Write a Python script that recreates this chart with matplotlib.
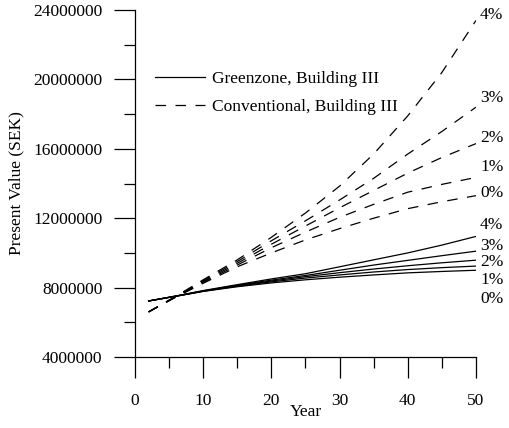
import matplotlib
matplotlib.use("Agg")
import matplotlib.pyplot as plt
from matplotlib.ticker import MultipleLocator

plt.rcParams['font.family'] = ['Liberation Serif', 'DejaVu Serif']
plt.rcParams['font.size'] = 12.5
plt.rcParams['lines.scale_dashes'] = False

# years
years = [2, 6, 10, 15, 20, 25, 30, 35, 40, 45, 50]

# Conventional, Building III (dashed), present value in SEK
conv_0 = [6.6e6, 7.45e6, 8.25e6, 9.2e6, 10.0e6, 10.75e6, 11.4e6, 12.0e6, 12.55e6, 12.95e6, 13.3e6]
conv_1 = [6.6e6, 7.47e6, 8.3e6, 9.3e6, 10.3e6, 11.2e6, 12.05e6, 12.8e6, 13.5e6, 13.95e6, 14.35e6]
conv_2 = [6.6e6, 7.48e6, 8.35e6, 9.4e6, 10.5e6, 11.55e6, 12.6e6, 13.6e6, 14.6e6, 15.5e6, 16.3e6]
conv_3 = [6.6e6, 7.5e6, 8.4e6, 9.5e6, 10.7e6, 11.85e6, 13.05e6, 14.3e6, 15.7e6, 17.0e6, 18.4e6]
conv_4 = [6.6e6, 7.5e6, 8.45e6, 9.6e6, 10.9e6, 12.3e6, 13.85e6, 15.7e6, 17.9e6, 20.4e6, 23.4e6]

# Greenzone, Building III (solid)
green_0 = [7.23e6, 7.5e6, 7.78e6, 8.05e6, 8.27e6, 8.45e6, 8.6e6, 8.73e6, 8.85e6, 8.93e6, 9.0e6]
green_1 = [7.23e6, 7.5e6, 7.79e6, 8.08e6, 8.33e6, 8.55e6, 8.73e6, 8.9e6, 9.04e6, 9.15e6, 9.24e6]
green_2 = [7.23e6, 7.51e6, 7.8e6, 8.11e6, 8.38e6, 8.63e6, 8.86e6, 9.07e6, 9.26e6, 9.43e6, 9.58e6]
green_3 = [7.23e6, 7.51e6, 7.81e6, 8.14e6, 8.43e6, 8.7e6, 9.0e6, 9.3e6, 9.57e6, 9.84e6, 10.1e6]
green_4 = [7.23e6, 7.52e6, 7.83e6, 8.17e6, 8.5e6, 8.8e6, 9.2e6, 9.6e6, 10.0e6, 10.45e6, 10.95e6]

rate_labels = ["0%", "1%", "2%", "3%", "4%"]
conv_label_y = [13.45e6, 14.95e6, 16.6e6, 18.9e6, 23.7e6]
green_label_y = [7.34e6, 8.44e6, 9.48e6, 10.4e6, 11.6e6]

fig = plt.figure(figsize=(5.1, 4.28), dpi=100)
ax = fig.add_axes([0.2647, 0.1659, 0.6686, 0.8107])

conv = [conv_0, conv_1, conv_2, conv_3, conv_4]
green = [green_0, green_1, green_2, green_3, green_4]
for i in range(5):
    ax.plot(years, green[i], color="black", lw=0.9,
            label="Greenzone, Building III" if i == 0 else None)
    ax.plot(years, conv[i], color="black", lw=0.9, dashes=(7.6, 6.8),
            label="Conventional, Building III" if i == 0 else None)
    ax.text(50.6, conv_label_y[i], rate_labels[i], va="center", ha="left")
    ax.text(50.6, green_label_y[i], rate_labels[i], va="center", ha="left")

ax.set_xlim(0, 50)
ax.set_ylim(4000000, 24000000)
ax.set_xticks([0, 10, 20, 30, 40, 50])
ax.set_yticks([4000000, 8000000, 12000000, 16000000, 20000000, 24000000])
ax.set_yticklabels(["4000000", "8000000", "12000000", "16000000", "20000000", "24000000"])
ax.xaxis.set_minor_locator(MultipleLocator(5))
ax.yaxis.set_minor_locator(MultipleLocator(2000000))
ax.tick_params(which="major", length=15, width=0.9, direction="out")
ax.tick_params(which="minor", length=8, width=0.9, direction="out")
ax.tick_params(axis="y", pad=8.5)
ax.tick_params(axis="x", pad=11)
for s in ["top", "right"]:
    ax.spines[s].set_visible(False)
for s in ["left", "bottom"]:
    ax.spines[s].set_linewidth(0.9)

ax.set_xlabel("Year", labelpad=-4)
ax.set_ylabel("Present Value (SEK)", labelpad=6)

ax.legend(loc="upper left", bbox_to_anchor=(0.0587, 0.8245), frameon=False,
          borderaxespad=0, borderpad=0, handlelength=2.9, handletextpad=0.4,
          labelspacing=0.665)

ax.patch.set_visible(False)
fig.savefig("out.png", dpi=100)
